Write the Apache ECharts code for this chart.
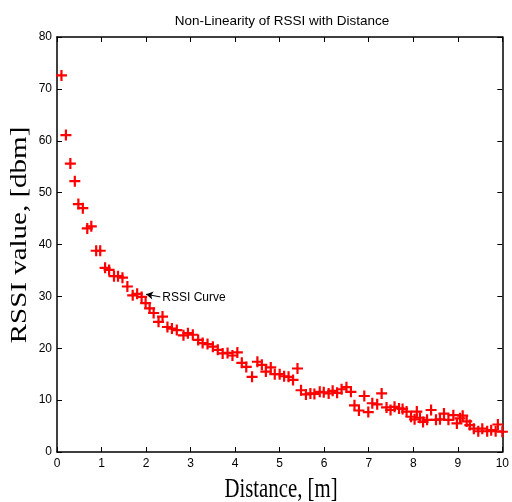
<!DOCTYPE html>
<html>
<head>
<meta charset="utf-8">
<script src="https://cdn.jsdelivr.net/npm/echarts@6/dist/echarts.min.js"></script>
<style>
  html, body { margin: 0; padding: 0; background: #fff; }
  #chart-container { width: 512px; height: 502px; }
</style>
</head>
<body>
<div id="chart-container"></div>
<script>
// measured distance [m]
var distance = [
  0.1, 0.2, 0.3, 0.4, 0.48, 0.58, 0.68, 0.77, 0.88, 0.97,
  1.08, 1.17, 1.28, 1.37, 1.47, 1.58, 1.7, 1.8, 1.9, 1.99,
  2.08, 2.17, 2.28, 2.37, 2.48, 2.58, 2.69, 2.84, 2.94, 3.05,
  3.17, 3.27, 3.38, 3.5, 3.61, 3.72, 3.83, 3.94, 4.05, 4.15,
  4.25, 4.38, 4.5, 4.6, 4.69, 4.8, 4.89, 5.0, 5.1, 5.2,
  5.3, 5.4, 5.48, 5.59, 5.69, 5.78, 5.9, 5.99, 6.1, 6.19,
  6.29, 6.39, 6.5, 6.6, 6.68, 6.78, 6.9, 6.99, 7.08, 7.19,
  7.29, 7.4, 7.49, 7.58, 7.68, 7.76, 7.85, 7.95, 8.03, 8.08,
  8.15, 8.22, 8.31, 8.4, 8.51, 8.6, 8.69, 8.79, 8.9, 8.98,
  9.05, 9.11, 9.2, 9.27, 9.36, 9.46, 9.55, 9.66, 9.75, 9.85,
  9.9, 10.0
];
// RSSI reading [dbm]
var rssi = [
  72.6, 61.1, 55.6, 52.2, 47.8, 47.0, 43.1, 43.5, 38.8, 38.8,
  35.5, 35.1, 33.9, 33.9, 33.6, 31.9, 30.2, 30.5, 29.9, 28.7,
  27.7, 26.8, 25.1, 26.1, 24.1, 23.8, 23.5, 22.5, 22.9, 22.6,
  21.6, 21.0, 20.8, 20.3, 19.7, 19.0, 19.1, 18.6, 19.2, 17.2,
  16.4, 14.5, 17.4, 16.8, 15.5, 16.3, 15.0, 15.0, 14.6, 14.5,
  13.9, 16.1, 11.9, 11.1, 11.3, 11.2, 11.6, 11.5, 11.3, 11.8,
  11.4, 12.1, 12.5, 11.6, 9.0, 8.0, 10.8, 7.7, 9.4, 9.2,
  11.3, 8.6, 8.1, 8.7, 8.4, 8.3, 7.8, 6.8, 6.3, 7.8,
  6.6, 5.8, 6.2, 8.1, 6.2, 6.3, 7.4, 6.2, 7.1, 5.5,
  6.5, 7.0, 5.9, 5.2, 4.5, 4.0, 4.5, 4.0, 4.2, 4.0,
  5.3, 3.9
];
var xTicks = [0, 1, 2, 3, 4, 5, 6, 7, 8, 9, 10];
var yTicks = [0, 10, 20, 30, 40, 50, 60, 70, 80];
// annotation: arrow tip and label anchor, in data units
var noteText = 'RSSI Curve';
var noteTip = [2.0, 30.4];
var noteTail = [2.32, 29.9];

var points = distance.map(function (d, i) { return [d, rssi[i]]; });

var dom = document.getElementById('chart-container');
var myChart = echarts.init(dom, null, { renderer: 'canvas' });

var tickFont = { color: '#000', fontFamily: 'Liberation Sans, Arial', fontSize: 12 };
var axisLine = { show: true, onZero: false, lineStyle: { color: '#000', width: 1.5 } };
var tick = { show: true, inside: true, length: 5, lineStyle: { color: '#000', width: 1 } };
var nameFont = { fill: '#000', fontFamily: 'Liberation Serif, Times New Roman', fontSize: 20, align: 'center', verticalAlign: 'middle' };

var option = {
  backgroundColor: '#fff',
  animation: false,
  title: {
    text: 'Non-Linearity of RSSI with Distance',
    left: 277,
    textAlign: 'center',
    top: 9,
    textStyle: { fontFamily: 'Liberation Sans, Arial', fontSize: 13.5, fontWeight: 'normal', color: '#000' }
  },
  grid: { left: 57, right: 3, top: 37, bottom: 50 },
  // axis names drawn as text so they can be stretched like the original
  graphic: [{
    type: 'text', x: 281, y: 490, scaleX: 1.04, scaleY: 1.35,
    style: Object.assign({ text: 'Distance, [m]' }, nameFont)
  }, {
    type: 'text', x: 20, y: 235, rotation: Math.PI / 2, scaleX: 1.45, scaleY: 1.15,
    style: Object.assign({ text: 'RSSI value, [dbm]' }, nameFont)
  }],
  xAxis: [{
    type: 'value',
    min: xTicks[0], max: xTicks[xTicks.length - 1], interval: 1,
    axisLine: axisLine, axisTick: tick,
    axisLabel: Object.assign({ margin: 6 }, tickFont),
    splitLine: { show: false }
  }, {
    type: 'value', position: 'top',
    min: xTicks[0], max: xTicks[xTicks.length - 1], interval: 1,
    axisLine: axisLine, axisTick: tick,
    axisLabel: { show: false }, splitLine: { show: false }
  }],
  yAxis: [{
    type: 'value',
    min: yTicks[0], max: yTicks[yTicks.length - 1], interval: 10,
    axisLine: axisLine, axisTick: tick,
    axisLabel: Object.assign({ margin: 5 }, tickFont),
    splitLine: { show: false }
  }, {
    type: 'value', position: 'right',
    min: yTicks[0], max: yTicks[yTicks.length - 1], interval: 10,
    axisLine: axisLine, axisTick: tick,
    axisLabel: { show: false }, splitLine: { show: false }
  }],
  series: [{
    type: 'scatter',
    data: points,
    symbol: 'path://M4,0H6V4H10V6H6V10H4V6H0V4H4Z',
    symbolSize: 11,
    itemStyle: { color: '#ff0000', opacity: 1 },
    markLine: {
      silent: true,
      symbol: ['none', 'arrow'],
      symbolSize: [6, 7],
      lineStyle: { color: '#000', width: 1, type: 'solid' },
      label: {
        show: true,
        position: 'start',
        formatter: noteText,
        distance: 2,
        color: '#000',
        fontFamily: 'Liberation Sans, Arial',
        fontSize: 12
      },
      data: [[
        { coord: noteTail },
        { coord: noteTip }
      ]]
    }
  }]
};

myChart.setOption(option);
window.addEventListener('resize', myChart.resize);
</script>
</body>
</html>
